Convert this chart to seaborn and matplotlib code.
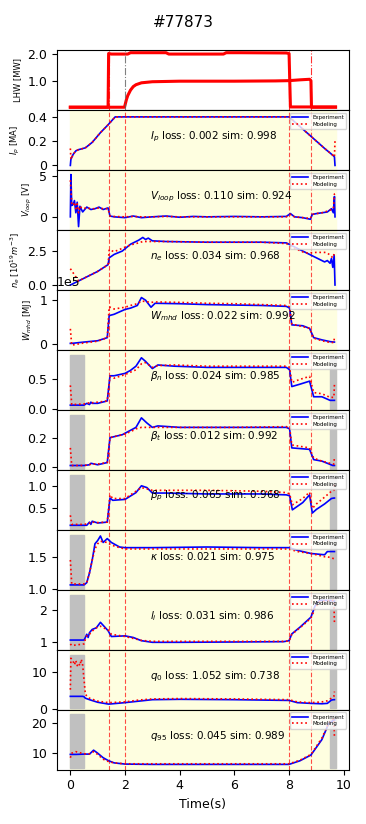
import numpy as np
import matplotlib
matplotlib.use('Agg')
import matplotlib.pyplot as plt
import seaborn as sns

plt.rcParams['xtick.labelsize'] = 9
plt.rcParams['ytick.labelsize'] = 9

shot = '#77873'
phase_lines = [1.4, 2.0, 8.0, 8.8]
flat_start, flat_end = 0.0, 9.7
gray_left = (0.0, 0.5)
gray_right = (9.5, 9.7)

# LHW power, two sources
lhw_t1 = [0.0, 1.38, 1.40, 1.5, 2.1, 2.2, 3.5, 3.6, 5.6, 5.7, 6.2, 7.9, 8.0, 8.05, 9.7]
lhw_p1 = [0.02, 0.02, 2.0, 1.98, 1.98, 2.03, 2.03, 1.98, 1.98, 2.03, 2.03, 2.02, 2.0, 0.03, 0.03]
lhw_t2 = [0.0, 1.98, 2.0, 2.05, 2.1, 2.2, 2.3, 2.4, 2.6, 3.0, 4.0, 6.0, 7.5, 8.0, 8.4, 8.75, 8.8, 8.82, 9.7]
lhw_p2 = [0.02, 0.02, 0.1, 0.3, 0.45, 0.65, 0.78, 0.85, 0.92, 0.96, 0.98, 0.98, 0.99, 1.0, 1.03, 1.05, 1.0, 0.02, 0.02]

ip_t = [0.0, 0.02, 0.1, 0.2, 0.3, 0.55, 0.8, 1.1, 1.38, 1.64, 2.0, 8.0, 8.8, 9.3, 9.62, 9.66, 9.68]
ip_exp = [0.0, 0.05, 0.09, 0.12, 0.13, 0.145, 0.19, 0.27, 0.335, 0.40, 0.40, 0.40, 0.24, 0.14, 0.08, 0.07, 0.0]
ip_mod = [0.14, 0.05, 0.09, 0.12, 0.13, 0.145, 0.19, 0.27, 0.335, 0.40, 0.40, 0.40, 0.24, 0.14, 0.08, 0.07, 0.2]

vl_t = [0.0, 0.02, 0.05, 0.1, 0.15, 0.2, 0.25, 0.3, 0.35, 0.45, 0.6, 0.75, 0.9, 1.05, 1.2, 1.38, 1.45, 1.6,
        2.0, 2.3, 2.6, 3.0, 3.5, 4.0, 4.5, 5.0, 6.0, 7.0, 7.9, 8.05, 8.2, 8.5, 8.78, 8.85, 9.0, 9.2, 9.4,
        9.55, 9.62, 9.66, 9.68]
vl_exp = [0.0, 5.2, 1.4, 1.5, 2.0, 0.5, 1.8, -1.2, 1.3, 0.6, 1.2, 0.9, 1.0, 1.2, 0.9, 1.1, 0.1, 0.0,
          -0.1, 0.1, -0.1, 0.0, 0.1, -0.05, 0.05, 0.0, 0.05, 0.0, 0.05, 0.4, 0.0, -0.1, -0.3, 0.3, 0.4,
          0.5, 0.6, 1.0, 0.5, 2.5, 0.0]
vl_mod = [4.5, 3.5, 1.6, 1.4, 1.8, 1.0, 1.6, 0.5, 1.3, 1.0, 1.1, 1.0, 1.0, 1.1, 1.0, 1.0, 0.1, 0.05,
          0.0, 0.05, 0.0, 0.0, 0.05, 0.0, 0.0, 0.0, 0.0, 0.0, 0.0, 0.3, 0.0, -0.1, -0.2, 0.3, 0.4,
          0.5, 0.7, 0.9, 1.0, 2.8, 2.8]

ne_t = [0.0, 0.3, 0.7, 1.0, 1.38, 1.42, 1.6, 1.9, 2.2, 2.5, 2.65, 2.75, 2.85, 3.0, 3.5, 5.0, 7.0, 7.9,
        8.2, 8.6, 9.0, 9.3, 9.4, 9.5, 9.55, 9.6, 9.65, 9.68]
ne_exp = [0.0, 0.3, 0.7, 1.0, 1.5, 2.0, 2.25, 2.5, 3.0, 3.3, 3.5, 3.35, 3.45, 3.25, 3.2, 3.15, 3.15, 3.1,
          2.8, 2.4, 2.0, 1.7, 1.8, 1.6, 1.95, 1.3, 2.2, 0.0]
ne_mod = [1.2, 0.3, 0.7, 1.0, 1.5, 2.6, 2.45, 2.7, 2.95, 3.1, 3.2, 3.2, 3.2, 3.2, 3.2, 3.15, 3.15, 3.05,
          2.7, 2.35, 2.4, 2.4, 2.35, 2.2, 2.1, 2.0, 2.3, 2.3]

wm_t = [0.0, 0.05, 0.5, 1.0, 1.35, 1.42, 1.6, 2.0, 2.2, 2.45, 2.6, 2.75, 2.95, 3.1, 4.0, 5.0, 6.0, 7.0,
        7.9, 8.02, 8.1, 8.5, 8.75, 8.9, 9.2, 9.5, 9.64, 9.66]
wm_exp = [0.02, 0.02, 0.05, 0.08, 0.15, 0.65, 0.68, 0.79, 0.82, 0.88, 1.06, 1.0, 0.84, 0.93, 0.92, 0.9,
          0.89, 0.88, 0.86, 0.82, 0.44, 0.42, 0.36, 0.15, 0.1, 0.06, 0.05, 0.05]
wm_mod = [0.35, -0.02, 0.03, 0.07, 0.15, 0.85, 0.8, 0.84, 0.88, 0.92, 0.98, 0.97, 0.95, 0.96, 0.95, 0.93,
          0.92, 0.9, 0.88, 0.85, 0.46, 0.4, 0.36, 0.14, 0.08, 0.04, 0.04, 0.17]

bn_t = [0.0, 0.05, 0.5, 0.6, 0.7, 0.75, 0.8, 1.0, 1.35, 1.45, 1.6, 1.8, 2.0, 2.2, 2.4, 2.6, 2.75, 3.0,
        3.2, 3.8, 5.0, 7.0, 7.9, 8.02, 8.1, 8.4, 8.75, 8.9, 9.2, 9.5, 9.64, 9.66]
bn_exp = [0.07, 0.07, 0.07, 0.1, 0.08, 0.12, 0.1, 0.1, 0.14, 0.56, 0.56, 0.58, 0.6, 0.65, 0.72, 0.86,
          0.8, 0.68, 0.74, 0.72, 0.70, 0.70, 0.70, 0.66, 0.38, 0.42, 0.47, 0.21, 0.21, 0.15, 0.15, 0.15]
bn_mod = [0.4, 0.08, 0.09, 0.1, 0.11, 0.12, 0.11, 0.12, 0.14, 0.55, 0.52, 0.55, 0.58, 0.62, 0.66, 0.76,
          0.78, 0.70, 0.73, 0.74, 0.72, 0.72, 0.72, 0.70, 0.45, 0.50, 0.55, 0.28, 0.26, 0.2, 0.2, 0.42]

bt_t = [0.0, 0.05, 0.5, 0.7, 0.75, 1.0, 1.35, 1.45, 1.9, 2.2, 2.4, 2.6, 2.8, 3.0, 3.2, 4.0, 6.0, 7.9,
        8.02, 8.1, 8.75, 8.9, 9.2, 9.6, 9.64, 9.66]
bt_exp = [0.01, 0.01, 0.01, 0.015, 0.025, 0.015, 0.03, 0.2, 0.22, 0.25, 0.27, 0.335, 0.3, 0.27, 0.28,
          0.27, 0.27, 0.27, 0.26, 0.13, 0.12, 0.05, 0.04, 0.01, 0.01, 0.01]
bt_mod = [0.13, 0.01, 0.01, 0.015, 0.02, 0.02, 0.03, 0.2, 0.22, 0.24, 0.26, 0.27, 0.27, 0.27, 0.27,
          0.27, 0.27, 0.275, 0.27, 0.15, 0.13, 0.06, 0.04, 0.02, 0.02, 0.07]

bp_t = [0.0, 0.05, 0.5, 0.6, 0.7, 0.75, 0.8, 1.0, 1.35, 1.45, 1.55, 2.0, 2.4, 2.6, 2.8, 3.0, 3.5, 5.0,
        7.0, 7.9, 8.02, 8.12, 8.5, 8.75, 8.85, 9.0, 9.3, 9.55, 9.64, 9.66]
bp_exp = [0.13, 0.13, 0.13, 0.13, 0.2, 0.15, 0.22, 0.18, 0.2, 0.73, 0.68, 0.7, 0.85, 1.0, 0.96, 0.84,
          0.84, 0.82, 0.82, 0.8, 0.78, 0.47, 0.63, 0.8, 0.4, 0.48, 0.6, 0.72, 0.73, 0.73]
bp_mod = [0.35, 0.15, 0.15, 0.16, 0.18, 0.17, 0.2, 0.19, 0.2, 0.8, 0.72, 0.72, 0.88, 0.96, 0.93, 0.9,
          0.9, 0.9, 0.88, 0.85, 0.82, 0.58, 0.72, 0.86, 0.5, 0.6, 0.75, 0.88, 0.9, 1.05]

ka_t = [0.0, 0.05, 0.5, 0.6, 0.7, 0.8, 0.9, 1.0, 1.1, 1.2, 1.35, 1.5, 1.8, 2.0, 3.0, 5.0, 7.0, 8.0, 8.3,
        8.8, 9.3, 9.4, 9.64, 9.66]
ka_exp = [1.065, 1.065, 1.065, 1.1, 1.25, 1.45, 1.7, 1.75, 1.82, 1.72, 1.78, 1.72, 1.65, 1.64, 1.64,
          1.65, 1.64, 1.64, 1.6, 1.55, 1.53, 1.58, 1.58, 1.58]
ka_mod = [1.45, 1.08, 1.08, 1.1, 1.25, 1.45, 1.62, 1.7, 1.74, 1.73, 1.72, 1.68, 1.64, 1.62, 1.62, 1.62,
          1.62, 1.62, 1.58, 1.55, 1.5, 1.5, 1.47, 1.43]

li_t = [0.0, 0.05, 0.5, 0.55, 0.6, 0.65, 0.7, 0.8, 0.95, 1.1, 1.38, 1.5, 2.0, 2.3, 2.6, 3.0, 4.0, 6.0,
        7.8, 8.0, 8.1, 8.4, 8.8, 8.95, 9.1, 9.5, 9.64, 9.66]
li_exp = [1.07, 1.07, 1.07, 1.15, 1.25, 1.15, 1.3, 1.4, 1.45, 1.62, 1.36, 1.18, 1.2, 1.15, 1.05, 1.0,
          1.0, 1.01, 1.02, 1.05, 1.26, 1.47, 1.78, 2.13, 2.3, 2.3, 2.28, 2.28]
li_mod = [0.95, 0.9, 0.95, 1.1, 1.2, 1.2, 1.25, 1.35, 1.45, 1.5, 1.38, 1.25, 1.18, 1.12, 1.06, 1.03,
          1.03, 1.03, 1.03, 1.04, 1.25, 1.45, 1.75, 2.05, 2.25, 2.3, 2.3, 1.6]

q0_t = [0.0, 0.02, 0.1, 0.15, 0.2, 0.25, 0.3, 0.35, 0.4, 0.45, 0.5, 0.55, 0.7, 1.0, 1.4, 2.0, 2.5, 3.0,
        4.0, 6.0, 8.0, 8.3, 8.8, 9.2, 9.4, 9.55, 9.64, 9.66]
q0_exp = [3.5, 3.5, 3.5, 3.5, 3.5, 3.5, 3.5, 3.5, 3.5, 3.5, 3.4, 3.0, 2.6, 1.9, 1.4, 1.8, 2.2, 2.6,
          2.7, 2.6, 2.4, 1.8, 1.6, 1.5, 1.6, 2.5, 2.6, 2.6]
q0_mod = [5.3, 13.8, 13.0, 12.0, 13.2, 11.8, 12.5, 11.8, 13.5, 12.0, 8.0, 4.0, 3.0, 2.2, 1.8, 2.0, 2.5,
          2.8, 2.9, 2.8, 2.6, 2.0, 1.8, 2.0, 2.3, 3.0, 3.5, 4.8]

q95_t = [0.0, 0.05, 0.2, 0.5, 0.7, 0.85, 1.0, 1.2, 1.4, 1.6, 2.0, 3.0, 5.0, 8.0, 8.4, 8.8, 8.95, 9.2,
         9.45, 9.64, 9.66]
q95_exp = [9.6, 9.6, 9.6, 9.7, 9.7, 11.0, 10.0, 8.5, 7.5, 6.8, 6.4, 6.3, 6.3, 6.3, 7.5, 9.4, 11.3, 14.5,
           19.8, 21.0, 21.0]
q95_mod = [8.5, 10.0, 10.5, 9.8, 9.8, 10.5, 9.6, 8.0, 7.2, 6.8, 6.5, 6.5, 6.5, 6.5, 7.7, 9.6, 11.6, 15.0,
           20.0, 21.5, 15.0]

panels = [
    # t, exp, mod, label text, ylabel, yticks, yticklabels, ylim, gray
    (ip_t, ip_exp, ip_mod, r'$I_p$ loss: 0.002 sim: 0.998', r'$I_p$ [MA]', [0, 0.2, 0.4], ['0', '0.2', '0.4'], (-0.039, 0.455), False),
    (vl_t, vl_exp, vl_mod, r'$V_{loop}$ loss: 0.110 sim: 0.924', r'$V_{loop}$ [V]', [0, 5], ['0', '5'], (-1.63, 5.74), False),
    (ne_t, ne_exp, ne_mod, r'$n_e$ loss: 0.034 sim: 0.968', r'$n_e$ [$10^{19} m^{-3}$]', [0, 2.5], ['0.0', '2.5'], (-0.37, 4.04), False),
    (wm_t, np.array(wm_exp) * 1e5, np.array(wm_mod) * 1e5, r'$W_{mhd}$ loss: 0.022 sim: 0.992', r'$W_{mhd}$ [MJ]', [0, 1e5], None, (-0.13e5, 1.23e5), False),
    (bn_t, bn_exp, bn_mod, r'$\beta_n$ loss: 0.024 sim: 0.985', '', [0, 0.5], ['0.0', '0.5'], (-0.01, 0.99), True),
    (bt_t, bt_exp, bt_mod, r'$\beta_t$ loss: 0.012 sim: 0.992', '', [0, 0.2], ['0.0', '0.2'], (-0.02, 0.389), True),
    (bp_t, bp_exp, bp_mod, r'$\beta_p$ loss: 0.065 sim: 0.968', '', [0.5, 1.0], ['0.5', '1.0'], (0.03, 1.35), True),
    (ka_t, ka_exp, ka_mod, r'$\kappa$ loss: 0.021 sim: 0.975', '', [1.0, 1.5], ['1.0', '1.5'], (0.99, 1.915), True),
    (li_t, li_exp, li_mod, r'$l_i$ loss: 0.031 sim: 0.986', '', [1, 2], ['1', '2'], (0.77, 2.63), True),
    (q0_t, q0_exp, q0_mod, r'$q_0$ loss: 1.052 sim: 0.738', '', [0, 10], ['0', '10'], (-0.1, 16.1), True),
    (q95_t, q95_exp, q95_mod, r'$q_{95}$ loss: 0.045 sim: 0.989', '', [10, 20], ['10', '20'], (4.57, 24.4), True),
]

fig, axes = plt.subplots(12, 1, sharex=True, figsize=(3.66, 8.24), dpi=100)
fig.subplots_adjust(left=0.156, right=0.953, top=0.939, bottom=0.066, hspace=0)
fig.suptitle(shot, fontsize=11, y=0.982)

# LHW panel
ax = axes[0]
sns.lineplot(x=lhw_t1, y=lhw_p1, ax=ax, color='red', lw=2.2, sort=False, estimator=None)
sns.lineplot(x=lhw_t2, y=lhw_p2, ax=ax, color='red', lw=2.2, sort=False, estimator=None)
for x in phase_lines:
    c = '#606060' if x == 2.0 else '#ff0000'
    ax.axvline(x, color=c, ls='-.', lw=0.8, alpha=0.8)
ax.set_ylim(-0.09, 2.12)
ax.set_yticks([1.0, 2.0])
ax.set_yticklabels(['1.0', '2.0'])
ax.set_ylabel('LHW [MW]', fontsize=6)

for ax, (t, exp, mod, txt, ylab, yt, ytl, ylim, gray) in zip(axes[1:], panels):
    ax.axvspan(flat_start, flat_end, color='#fefee0', zorder=0)
    if gray:
        ax.axvspan(*gray_left, ymin=0.02, ymax=0.92, color='#c0c0c0', zorder=1)
        ax.axvspan(*gray_right, ymin=0.02, ymax=0.92, color='#c0c0c0', zorder=1)
    for x in phase_lines:
        ax.axvline(x, color='red', ls=(0, (4, 2)), lw=0.8, alpha=0.7, zorder=2)
    sns.lineplot(x=t, y=exp, ax=ax, color='blue', lw=1.2, label='Experiment', sort=False, estimator=None, zorder=3)
    sns.lineplot(x=t, y=mod, ax=ax, color='red', lw=1.2, ls=':', label='Modeling', sort=False, estimator=None, zorder=4)
    ax.text(0.32, 0.56, txt, transform=ax.transAxes, fontsize=7.5, va='center', ha='left', zorder=5)
    ax.set_ylim(*ylim)
    ax.set_yticks(yt)
    if ytl is not None:
        ax.set_yticklabels(ytl)
    else:
        ax.ticklabel_format(axis='y', style='sci', scilimits=(0, 0))
    ax.set_ylabel(ylab, fontsize=6)
    ax.legend(loc='upper right', fontsize=4, handlelength=2.8, borderpad=0.4, labelspacing=0.3, framealpha=0.8)

for ax in axes[:-1]:
    ax.tick_params(axis='x', bottom=False)
axes[-1].set_xlim(-0.485, 10.185)
axes[-1].set_xticks([0, 2, 4, 6, 8, 10])
axes[-1].set_xlabel('Time(s)', fontsize=9)

plt.savefig('out.png', dpi=100)
